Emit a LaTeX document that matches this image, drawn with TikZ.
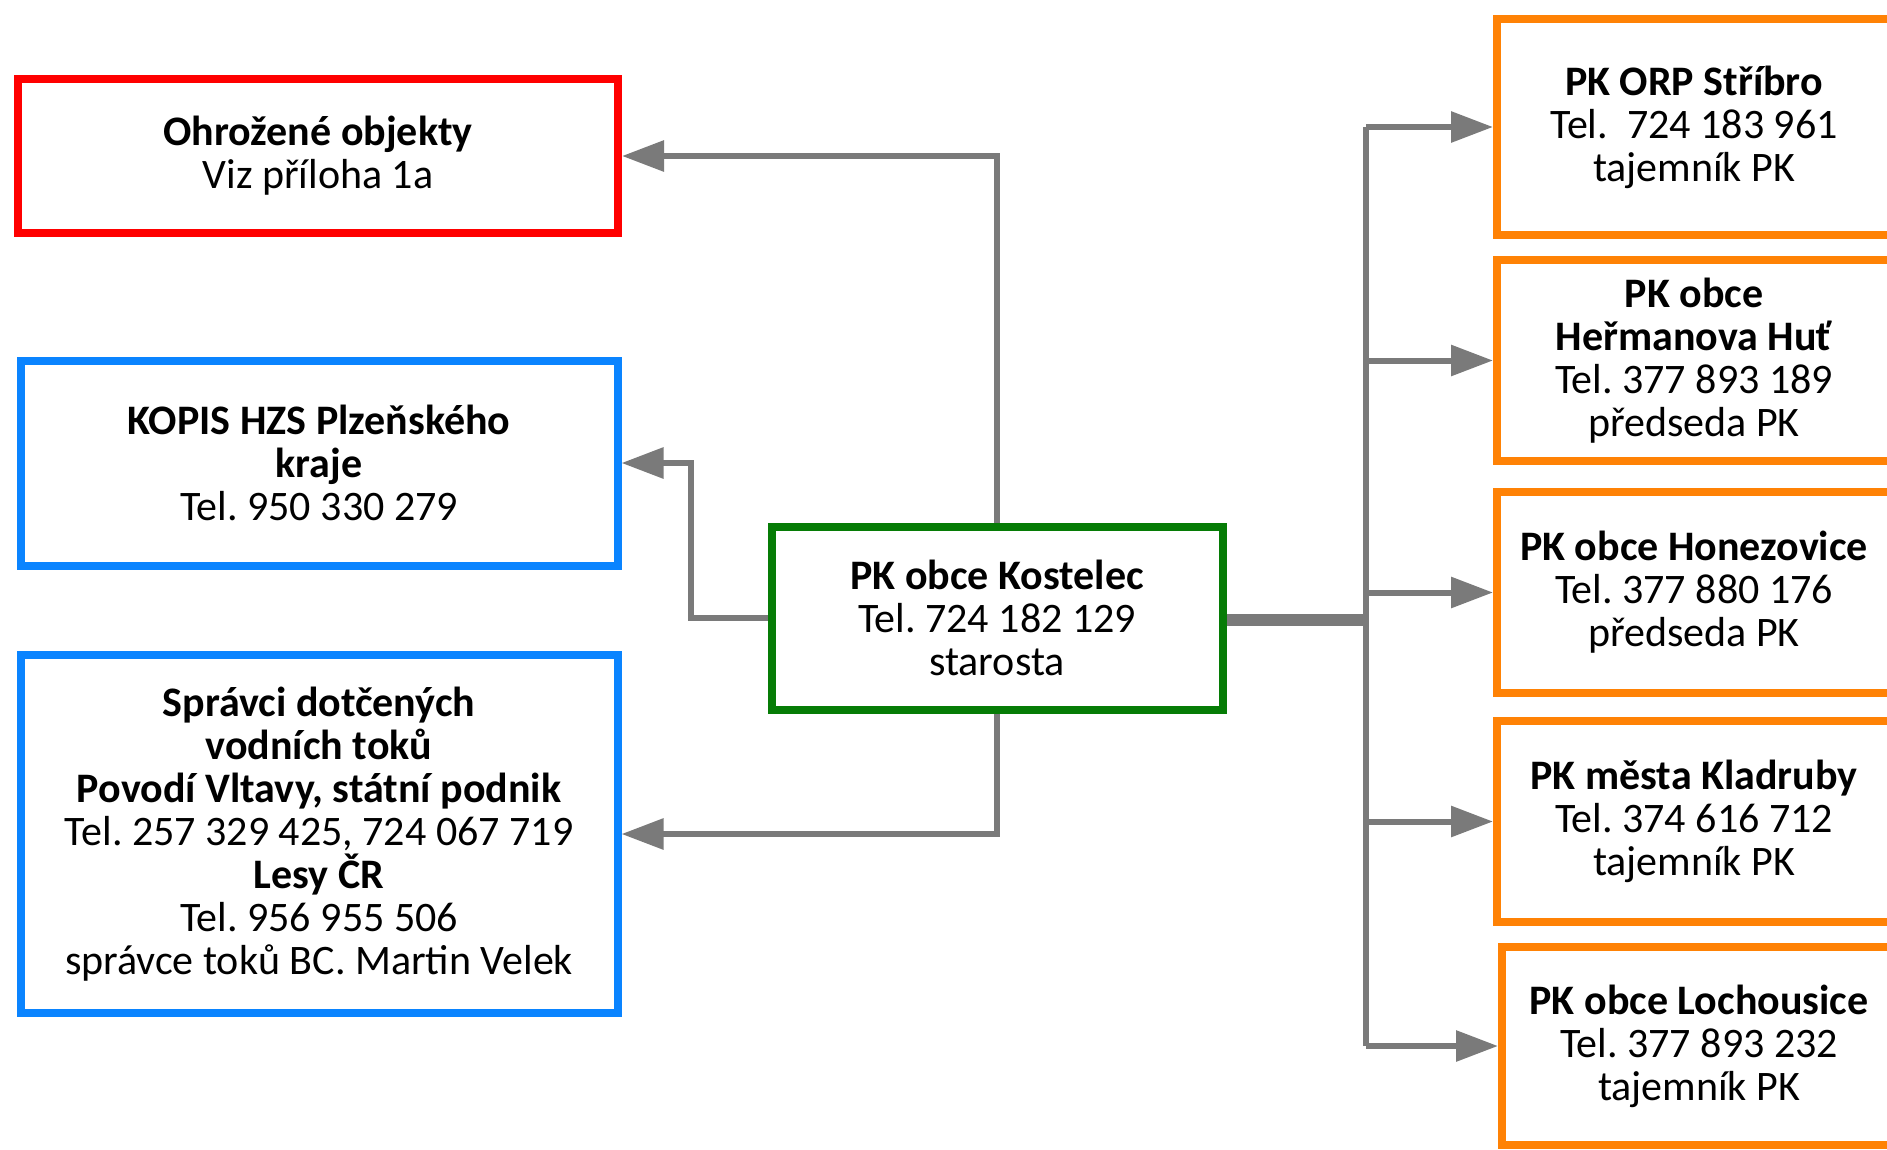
\documentclass[tikz,border=0pt]{standalone}
\usepackage{fontspec}
\setmainfont{Carlito}
\usepackage{tikz}
\usetikzlibrary{arrows.meta}
\frenchspacing

\definecolor{boxred}{HTML}{FF0000}
\definecolor{boxblue}{HTML}{0A84FF}
\definecolor{boxgreen}{HTML}{067C06}
\definecolor{boxorange}{HTML}{FF8205}
\definecolor{linegray}{HTML}{7A7A7A}

\tikzset{
  box/.style={draw, line width=8pt, fill=white, align=center, inner sep=0pt,
    font=\fontsize{42}{43}\selectfont},
  link/.style={draw=linegray, line width=6pt, -{Triangle[length=42pt,width=30pt]}},
}

\begin{document}
\begin{tikzpicture}[x=1pt, y=-1pt]
  \useasboundingbox (0,0) rectangle (1887,1149);
  \clip (0,0) rectangle (1887,1149);

  % left side
  \node[box, draw=boxred, minimum width=600pt, minimum height=154pt] (ohrozene) at (318,156)
    {\textbf{Ohrožené objekty}\\Viz příloha 1a};
  \node[box, draw=boxblue, minimum width=597pt, minimum height=205pt] (kopis) at (319,463)
    {\textbf{KOPIS HZS Plzeňského}\\\textbf{kraje}\\Tel. 950 330 279};
  \node[box, draw=boxblue, minimum width=597pt, minimum height=358pt] (spravci) at (319,834)
    {\textbf{Správci dotčených}\\\textbf{vodních toků}\\\textbf{Povodí Vltavy, státní podnik}\\
     Tel. 257 329 425, 724 067 719\\\textbf{Lesy ČR}\\Tel. 956 955 506\\správce toků BC. Martin Velek};

  % centre
  \node[box, draw=boxgreen, minimum width=451pt, minimum height=183pt] (kostelec) at (997,618)
    {\textbf{PK obce Kostelec}\\Tel. 724 182 129\\starosta};

  % right side
  \node[box, draw=boxorange, minimum width=394pt, minimum height=216pt] (stribro) at (1694,127)
    {\textbf{PK ORP Stříbro}\\Tel.\ \ 724 183 961\\tajemník PK};
  \node[box, draw=boxorange, minimum width=394pt, minimum height=201pt] (hermanova) at (1694,360.5)
    {\textbf{PK obce}\\\textbf{Heřmanova Huť}\\Tel. 377 893 189\\předseda PK};
  \node[box, draw=boxorange, minimum width=394pt, minimum height=201pt] (honezovice) at (1694,592.5)
    {\textbf{PK obce Honezovice}\\Tel. 377 880 176\\předseda PK};
  \node[box, draw=boxorange, minimum width=394pt, minimum height=201pt] (kladruby) at (1694,821.5)
    {\textbf{PK města Kladruby}\\Tel. 374 616 712\\tajemník PK};
  \node[box, draw=boxorange, minimum width=394pt, minimum height=198pt] (lochousice) at (1699,1046)
    {\textbf{PK obce Lochousice}\\Tel. 377 893 232\\tajemník PK};

  % connectors
  \draw[link] (kostelec.north) |- (ohrozene.east);
  \draw[link] (kostelec.west) -- ++(-77,0) |- (kopis.east);
  \draw[link] (kostelec.south) |- (spravci.east);

  \coordinate (bus) at (1366,620);
  \draw[linegray, line width=12pt] (kostelec.east |- bus) -- (bus);
  \draw[linegray, line width=6pt] (bus |- stribro.west) -- (bus |- lochousice.west);
  \foreach \n in {stribro, hermanova, honezovice, kladruby, lochousice}
    \draw[link] (bus |- \n.west) -- (\n.west);
\end{tikzpicture}
\end{document}
